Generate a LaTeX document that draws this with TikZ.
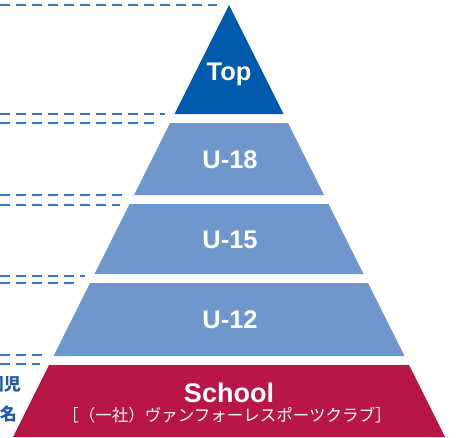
\documentclass[tikz,border=0pt]{standalone}
\usepackage{fontspec}
\setmainfont{Liberation Sans}
\newfontfamily\jpfont{Noto Sans CJK JP}

\definecolor{topblue}{HTML}{005BAC}
\definecolor{levelblue}{HTML}{7096CE}
\definecolor{schoolred}{HTML}{B81647}
\definecolor{guideblue}{HTML}{3A78C2}
\definecolor{noteblue}{HTML}{1F5AA6}

\begin{document}
\begin{tikzpicture}[x=1pt, y=-1pt,
  guide/.style = {guideblue, line width=1.3pt, dash pattern=on 10pt off 6pt},
  level/.style = {text=white, font=\bfseries\fontsize{25.5}{25.5}\selectfont},
  note/.style = {text=noteblue, anchor=east, inner sep=0pt, font=\jpfont\bfseries\fontsize{17}{17}\selectfont}]
\useasboundingbox (0,0) rectangle (461,437);
\clip (0,0) rectangle (461,437);

% pyramid: half width = (y-5)/2 around x = 229
\fill[topblue] (229,5) -- (283.5,114) -- (174.5,114) -- cycle;
\foreach \a/\b in {123/195, 204/274, 283/356}
  \fill[levelblue] ({229-(\a-5)/2},\a) -- ({229+(\a-5)/2},\a)
    -- ({229+(\b-5)/2},\b) -- ({229-(\b-5)/2},\b) -- cycle;
\fill[schoolred] (49,365) -- (409,365) -- (445,437) -- (13,437) -- cycle;

\node[level] (top) at (229,74) {Top};
\node[level] (u18) at (230,159.5) {U-18};
\node[level] (u15) at (230,239.5) {U-15};
\node[level] (u12) at (230,319.5) {U-12};
\node[level, font=\bfseries\fontsize{27}{27}\selectfont] (school) at (229,392.5) {School};
\node[text=white, font=\jpfont\fontsize{16.5}{16.5}\selectfont] (club) at (227,415)
  {［（一社）ヴァンフォーレスポーツクラブ］};

% guide lines on the left
\foreach \y/\e in {5/217, 114/165, 123/158, 195/123, 205/120, 276/85, 283/76, 355/43, 364/40}
  \draw[guide] (0,\y) -- (\e,\y);

\node[note] (kids) at (21,384) {園児};
\node[note] (count) at (17,414) {名};
\end{tikzpicture}
\end{document}
